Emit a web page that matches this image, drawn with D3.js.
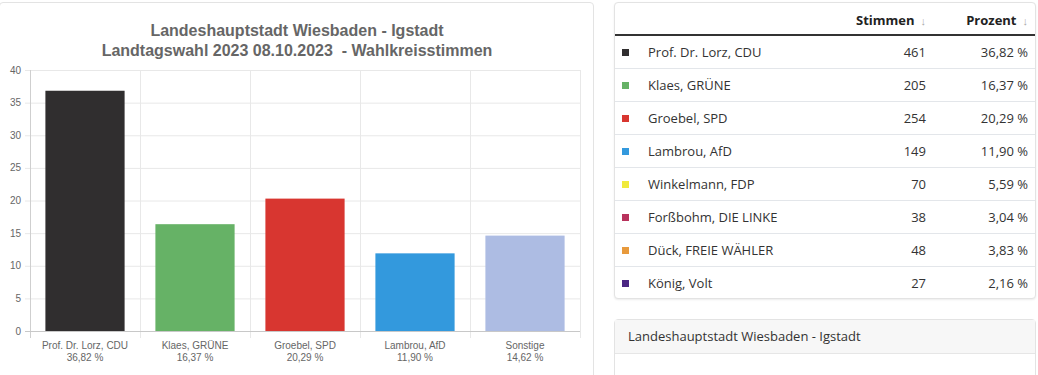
<!DOCTYPE html>
<html>
<head>
<meta charset="utf-8">
<script src="https://cdn.jsdelivr.net/npm/d3@7"></script>
<style>
  body { margin: 0; width: 1038px; height: 375px; overflow: hidden; background: #fff; position: relative; }
  .card { position: absolute; border: 1px solid #e3e3e3; border-radius: 4px; background: #fff; box-sizing: border-box; }
  .tbl { font-family: "Open Sans", "Noto Sans", sans-serif; font-size: 13px; color: #333; }
  .row { position: absolute; left: 0; right: 0; box-sizing: border-box; border-bottom: 1px solid #e3e6ea; }
  .cell { position: absolute; white-space: nowrap; }
  .arrow { color: #aaa; font-weight: normal; font-size: 11px; margin-left: 6px; }
</style>
</head>
<body>
<div id="chartCard" class="card" style="left:-1px; top:2px; width:595px; height:400px;"></div>
<div id="tableCard" class="card tbl" style="left:614px; top:2px; width:422px; height:297px; box-shadow:0 1px 2px rgba(0,0,0,0.08);"></div>
<div class="card tbl" style="left:614px; top:319px; width:422px; height:80px;">
  <div style="height:33px; background:#f7f7f7; border-bottom:1px solid #e6e6e6; padding-left:13px; line-height:33px;">Landeshauptstadt Wiesbaden - Igstadt</div>
</div>
<script>
// Balkendiagramm (Prozent)
const categories = ['Prof. Dr. Lorz, CDU', 'Klaes, GRÜNE', 'Groebel, SPD', 'Lambrou, AfD', 'Sonstige'];
const percentValues = [36.82, 16.37, 20.29, 11.90, 14.62];
const percentLabels = ['36,82 %', '16,37 %', '20,29 %', '11,90 %', '14,62 %'];
const barColors = ['#302e2f', '#66b266', '#d83630', '#3399dd', '#adbce3'];
const yTicks = [0, 5, 10, 15, 20, 25, 30, 35, 40];

// Tabelle
const candidates = ['Prof. Dr. Lorz, CDU', 'Klaes, GRÜNE', 'Groebel, SPD', 'Lambrou, AfD', 'Winkelmann, FDP', 'Forßbohm, DIE LINKE', 'Dück, FREIE WÄHLER', 'König, Volt'];
const votes = [461, 205, 254, 149, 70, 38, 48, 27];
const votePercents = ['36,82 %', '16,37 %', '20,29 %', '11,90 %', '5,59 %', '3,04 %', '3,83 %', '2,16 %'];
const swatchColors = ['#302e2f', '#66b266', '#d83630', '#3399dd', '#f0ea3c', '#b8325c', '#e89a3c', '#4b2683'];

const title = ['Landeshauptstadt Wiesbaden - Igstadt', 'Landtagswahl 2023 08.10.2023  - Wahlkreisstimmen'];

function drawChart() {
  const width = 594, height = 375;
  const svg = d3.select('body').append('svg')
    .attr('width', width).attr('height', height)
    .style('position', 'absolute').style('left', 0).style('top', 0)
    .style('font-family', '"Liberation Sans", Arial, sans-serif');

  const x = d3.scaleBand().domain(categories).range([30, 580]).paddingInner(0.28).paddingOuter(0.14);
  const y = d3.scaleLinear().domain([0, 40]).range([331, 70]);
  const step = x.step();

  // Titel
  svg.append('g').selectAll('text').data(title).enter().append('text')
    .attr('x', 297).attr('y', (d, i) => 36 + i * 20)
    .attr('text-anchor', 'middle').attr('fill', '#666')
    .attr('font-size', '16px').attr('font-weight', 'bold')
    .style('white-space', 'pre')
    .text(d => d);

  // horizontale Gitterlinien
  svg.append('g').selectAll('line').data(yTicks.filter(d => d > 0)).enter().append('line')
    .attr('x1', 25).attr('x2', 580)
    .attr('y1', d => y(d) + 0.5).attr('y2', d => y(d) + 0.5)
    .attr('stroke', '#e8e8e8');

  // vertikale Gitterlinien an den Kategoriegrenzen
  const bounds = d3.range(categories.length + 1).map(i => x.range()[0] + i * step);
  svg.append('g').selectAll('line').data(bounds).enter().append('line')
    .attr('x1', d => Math.round(d) + 0.5).attr('x2', d => Math.round(d) + 0.5)
    .attr('y1', y(40)).attr('y2', 338)
    .attr('stroke', (d, i) => i === 0 ? '#cfcfcf' : '#e8e8e8');

  // x-Achse
  svg.append('line').attr('x1', 25).attr('x2', 580)
    .attr('y1', y(0) + 0.5).attr('y2', y(0) + 0.5).attr('stroke', '#c8c8c8');

  // y-Achse Beschriftung
  svg.append('g').selectAll('text').data(yTicks).enter().append('text')
    .attr('x', 21).attr('y', d => y(d) + 3.5)
    .attr('text-anchor', 'end').attr('fill', '#666').attr('font-size', '10px')
    .text(d => d);

  // Balken
  svg.append('g').selectAll('rect').data(percentValues).enter().append('rect')
    .attr('x', (d, i) => x(categories[i]))
    .attr('width', x.bandwidth())
    .attr('y', d => y(d))
    .attr('height', d => y(0) - y(d))
    .attr('fill', (d, i) => barColors[i]);

  // Kategorie-Beschriftung
  const lbl = svg.append('g').selectAll('g').data(categories).enter().append('g')
    .attr('transform', d => 'translate(' + (x(d) + x.bandwidth() / 2) + ',0)');
  lbl.append('text').attr('y', 349).attr('text-anchor', 'middle')
    .attr('fill', '#666').attr('font-size', '10px').text(d => d);
  lbl.append('text').attr('y', 361).attr('text-anchor', 'middle')
    .attr('fill', '#666').attr('font-size', '10px').text((d, i) => percentLabels[i]);
}

function drawTable() {
  const card = d3.select('#tableCard');
  const header = card.append('div').attr('class', 'row')
    .style('top', '0px').style('height', '33px')
    .style('border-bottom', '2px solid #333').style('font-weight', 'bold').style('color', '#222');
  header.append('div').attr('class', 'cell').style('right', '109px').style('top', '8px')
    .html('Stimmen<span class="arrow">↓</span>');
  header.append('div').attr('class', 'cell').style('right', '7px').style('top', '8px')
    .html('Prozent<span class="arrow">↓</span>');

  const rowH = 33;
  const rows = card.selectAll('.datarow').data(candidates).enter().append('div')
    .attr('class', 'row datarow')
    .style('top', (d, i) => (33 + i * rowH) + 'px')
    .style('height', rowH + 'px')
    .style('border-bottom', (d, i) => i === candidates.length - 1 ? 'none' : null);

  rows.append('div').attr('class', 'cell')
    .style('left', '7px').style('top', '13px')
    .style('width', '7px').style('height', '7px')
    .style('background', (d, i) => swatchColors[i]);
  rows.append('div').attr('class', 'cell')
    .style('left', '33px').style('top', '7px').text(d => d);
  rows.append('div').attr('class', 'cell')
    .style('right', '109px').style('top', '7px').text((d, i) => votes[i]);
  rows.append('div').attr('class', 'cell')
    .style('right', '7px').style('top', '7px').text((d, i) => votePercents[i]);
}

drawChart();
drawTable();
</script>
</body>
</html>
